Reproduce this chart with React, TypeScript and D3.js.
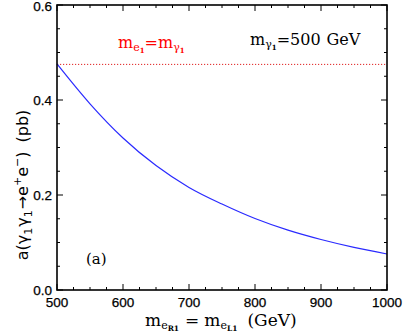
import React from 'react';
import * as d3 from 'd3';

// cross section vs slepton mass
const masses = [500, 550, 600, 650, 700, 750, 800, 850, 900, 950, 1000];
const sigma = [0.476, 0.392, 0.320, 0.262, 0.216, 0.181, 0.1505, 0.126, 0.1063, 0.0897, 0.0758];
const thresholdValue = 0.475;
const xTicks = [500, 600, 700, 800, 900, 1000];
const yTicks = [0, 0.2, 0.4, 0.6];

const W = 403, H = 335;
const L = 57, R = 387, T = 5, B = 290;

const serif = '"DejaVu Serif", "Liberation Serif", serif';
const sans = '"Liberation Sans", Arial, sans-serif';

const App = () => {
    const x = d3.scaleLinear().domain([500, 1000]).range([L, R]);
    const y = d3.scaleLinear().domain([0, 0.6]).range([B, T]);

    const line = d3.line<number>()
        .x((_, i) => x(masses[i]))
        .y(d => y(d))
        .curve(d3.curveMonotoneX);

    const xMinor = d3.range(500, 1001, 25);
    const yMinor = d3.range(0, 0.6001, 0.05);
    const isMajorX = (v: number) => v % 100 === 0;
    const isMajorY = (v: number) => Math.abs(v * 5 - Math.round(v * 5)) < 1e-6;

    return (
        <svg width={W} height={H} style={{ position: 'absolute', left: 0, top: 0, background: '#fff' }}>
            {/* ticks, all four sides, pointing in */}
            <g stroke="#000" strokeWidth={1}>
                {xMinor.map(v => {
                    const len = isMajorX(v) ? 6 : 3;
                    return (
                        <g key={'x' + v}>
                            <line x1={x(v)} x2={x(v)} y1={B} y2={B - len} />
                            <line x1={x(v)} x2={x(v)} y1={T} y2={T + len} />
                        </g>
                    );
                })}
                {yMinor.map(v => {
                    const len = isMajorY(v) ? 6 : 3;
                    return (
                        <g key={'y' + v}>
                            <line x1={L} x2={L + len} y1={y(v)} y2={y(v)} />
                            <line x1={R} x2={R - len} y1={y(v)} y2={y(v)} />
                        </g>
                    );
                })}
            </g>

            {/* threshold m_e1 = m_gamma1 */}
            <line x1={L} x2={R} y1={y(thresholdValue)} y2={y(thresholdValue)}
                stroke="#e02020" strokeWidth={1} strokeDasharray="1.2,1.8" />

            <path d={line(sigma) || ''} fill="none" stroke="#2a2aff" strokeWidth={1.2} />

            <rect x={L} y={T} width={R - L} height={B - T} fill="none" stroke="#000" strokeWidth={1.6} />

            {/* tick labels */}
            <g fontFamily={sans} fontSize={13.5} fill="#000" stroke="#000" strokeWidth={0.25}>
                {xTicks.map(v => (
                    <text key={v} x={x(v)} y={307} textAnchor="middle">{v}</text>
                ))}
                {yTicks.map(v => (
                    <text key={v} x={52} y={Math.max(y(v) + 4.5, 11)} textAnchor="end">{v.toFixed(1)}</text>
                ))}
            </g>

            {/* y label */}
            <text transform="translate(28,185) rotate(-90)" textAnchor="middle" fontFamily='"DejaVu Sans", sans-serif' fontSize={16}>
                a(γ<tspan fontSize={11} dy={4}>1</tspan><tspan dy={-4} dx={1}>γ</tspan><tspan fontSize={11} dy={4}>1</tspan>
                <tspan dy={-4} dx={1}>→e</tspan><tspan fontSize={11} dy={-7}>+</tspan><tspan dy={7}>e</tspan>
                <tspan fontSize={11} dy={-7}>−</tspan><tspan dy={7}>)</tspan><tspan dx={9}>(pb)</tspan>
            </text>

            {/* x label */}
            <text x={145} y={326} fontFamily={serif} fontSize={17}>
                m<tspan fontSize={11} dy={3}>e</tspan><tspan fontSize={7.5} dy={2} fontWeight="bold">R1</tspan>
                <tspan fontSize={17} dy={-5} dx={6}>=</tspan><tspan dx={5}>m</tspan><tspan fontSize={11} dy={3}>e</tspan>
                <tspan fontSize={7.5} dy={2} fontWeight="bold">L1</tspan><tspan fontSize={17} dy={-5} dx={10}>(GeV)</tspan>
            </text>

            {/* annotations */}
            <text x={118} y={48} fontFamily={serif} fontSize={16} fill="#ff0000">
                m<tspan fontSize={11} dy={3}>e</tspan><tspan fontSize={7} dy={2} fontWeight="bold">1</tspan>
                <tspan fontSize={16} dy={-5}>=m</tspan><tspan fontSize={11} dy={3}>γ</tspan>
                <tspan fontSize={7} dy={2} fontWeight="bold">1</tspan>
            </text>
            <text x={250} y={45} fontFamily={serif} fontSize={16} fill="#000">
                m<tspan fontSize={11} dy={3}>γ</tspan><tspan fontSize={7} dy={2} fontWeight="bold">1</tspan>
                <tspan fontSize={16} dy={-5}>=500</tspan><tspan dx={6}>GeV</tspan>
            </text>
            <text x={86} y={264} fontFamily={serif} fontSize={15}>(a)</text>
        </svg>
    );
};

export default App;
